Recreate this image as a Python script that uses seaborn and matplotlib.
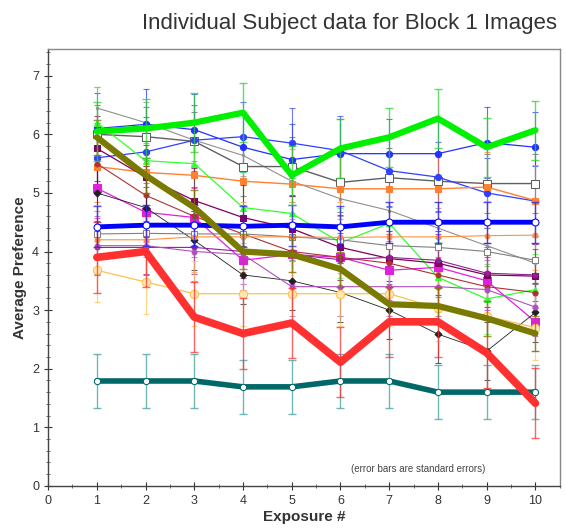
import matplotlib
matplotlib.use("Agg")
import matplotlib.pyplot as plt
import seaborn as sns
import numpy as np
import pandas as pd
from matplotlib.ticker import MultipleLocator

sns.set_theme(style="white")
plt.rcParams['font.family'] = ['Liberation Sans', 'DejaVu Sans']

exposure = [1, 2, 3, 4, 5, 6, 7, 8, 9, 10]
x_ticks = [0, 1, 2, 3, 4, 5, 6, 7, 8, 9, 10]
y_ticks = [0, 1, 2, 3, 4, 5, 6, 7]

# thin subject lines
gray_top = [6.45, 6.2, 5.9, 5.64, 5.2, 4.9, 4.7, 4.4, 4.1, 3.8]
gray_sq = [6.0, 5.96, 5.88, 5.45, 5.45, 5.18, 5.26, 5.2, 5.16, 5.16]
blue_b = [6.1, 6.17, 6.08, 5.78, 5.57, 5.67, 5.67, 5.67, 5.86, 5.78]
blue_c = [5.6, 5.7, 5.9, 5.96, 5.85, 5.72, 5.38, 5.27, 5.0, 4.86]
orange_d = [5.45, 5.35, 5.3, 5.2, 5.15, 5.07, 5.07, 5.07, 5.1, 4.87]
lgreen = [6.2, 5.55, 5.5, 4.75, 4.65, 4.15, 4.48, 3.56, 3.19, 3.35]
magenta = [5.08, 4.67, 4.58, 3.85, 3.95, 3.9, 3.68, 3.73, 3.5, 2.8]
dpurple = [5.76, 5.27, 4.87, 4.58, 4.39, 4.07, 3.88, 3.8, 3.6, 3.58]
brown = [5.5, 4.96, 4.6, 4.3, 4.0, 3.9, 3.8, 3.6, 3.4, 3.3]
black_d = [5.0, 4.75, 4.19, 3.6, 3.5, 3.3, 3.0, 2.59, 2.3, 2.96]
gray_sq2 = [4.3, 4.31, 4.3, 4.3, 4.25, 4.2, 4.1, 4.07, 4.0, 3.85]
orange2 = [4.2, 4.2, 4.25, 4.25, 4.25, 4.24, 4.25, 4.25, 4.27, 4.28]
purple1 = [4.07, 4.07, 4.07, 4.0, 3.95, 3.86, 3.9, 3.85, 3.63, 3.6]
violet2 = [4.1, 4.1, 4.0, 3.95, 3.4, 3.4, 3.4, 3.4, 3.35, 3.05]
gold = [3.68, 3.48, 3.28, 3.28, 3.28, 3.28, 3.28, 3.03, 2.9, 2.7]

# thick subject lines
teal_thick = [1.79, 1.79, 1.79, 1.69, 1.69, 1.79, 1.79, 1.6, 1.6, 1.6]
red_thick = [3.9, 4.0, 2.88, 2.6, 2.78, 2.11, 2.8, 2.8, 2.27, 1.41]
blue_thick = [4.42, 4.45, 4.45, 4.43, 4.45, 4.42, 4.5, 4.5, 4.5, 4.5]
olive_thick = [5.95, 5.3, 4.75, 4.0, 3.95, 3.7, 3.1, 3.07, 2.86, 2.6]
green_thick = [6.05, 6.1, 6.2, 6.37, 5.3, 5.76, 5.95, 6.27, 5.78, 6.07]

# standard errors (estimated per subject)
se = {
    "gray_top": 0.35, "gray_sq": 0.5, "blue_b": 0.6, "blue_c": 0.6, "orange_d": 0.6,
    "lgreen": 0.6, "magenta": 0.5, "dpurple": 0.55, "brown": 0.5, "black_d": 0.5,
    "gray_sq2": 0.4, "orange2": 0.6, "purple1": 0.45, "violet2": 0.5, "gold": 0.55,
    "teal_thick": 0.46, "red_thick": 0.6, "blue_thick": 0.35, "olive_thick": 0.3,
    "green_thick": 0.5,
}

# name, values, color, lw, marker, ms, facecolor
thin_series = [
    ("gray_top", gray_top, "#909090", 0.8, ".", 3, "#909090"),
    ("gray_sq", gray_sq, "#606060", 1.0, "s", 6, "white"),
    ("blue_b", blue_b, "#2030ff", 0.9, "o", 4.5, "#2030ff"),
    ("blue_c", blue_c, "#3040ff", 0.9, "o", 4.5, "#3040ff"),
    ("orange_d", orange_d, "#ff8030", 1.0, "s", 4.5, "#ff8030"),
    ("lgreen", lgreen, "#30ff30", 0.9, "^", 5, "#30ff30"),
    ("magenta", magenta, "#e020e0", 0.9, "s", 6, "#e020e0"),
    ("dpurple", dpurple, "#800060", 0.9, "s", 5, "#800060"),
    ("brown", brown, "#b03030", 0.8, "o", 3.5, "#b03030"),
    ("black_d", black_d, "#202020", 0.6, "D", 3.5, "#202020"),
    ("gray_sq2", gray_sq2, "#808080", 0.8, "s", 5, "white"),
    ("orange2", orange2, "#ff9040", 0.8, "o", 3.5, "#ff9040"),
    ("purple1", purple1, "#902090", 0.8, "o", 3.5, "#902090"),
    ("violet2", violet2, "#b050c0", 0.8, "o", 3.5, "#b050c0"),
    ("gold", gold, "#ffc050", 0.9, "o", 6, "#ffe8b0"),
]
thick_series = [
    ("teal_thick", teal_thick, "#006868", 4.0, "o", 4.5, "white", "#40a0a0"),
    ("red_thick", red_thick, "#ff3030", 5.5, "o", 3.5, "#ff3030", "#ff3030"),
    ("blue_thick", blue_thick, "#0000ff", 3.5, "o", 5, "white", "#2020ff"),
    ("olive_thick", olive_thick, "#7a7a00", 4.5, None, 0, "#7a7a00", "#7a7a00"),
    ("green_thick", green_thick, "#00f000", 4.5, None, 0, "#00f000", "#30d030"),
]

fig = plt.figure(figsize=(5.66, 5.31), dpi=100)
ax = fig.add_axes([0.085, 0.085, 0.904, 0.822])

for name, vals, col, lw, mk, ms, fc in thin_series:
    ax.errorbar(exposure, vals, yerr=se[name], fmt="none", ecolor=col, elinewidth=0.8,
                capsize=2.5, capthick=0.8, alpha=0.7, zorder=2)
    sns.lineplot(x=exposure, y=vals, ax=ax, color=col, linewidth=lw, marker=mk,
                 markersize=ms, markerfacecolor=fc, markeredgecolor=col, zorder=3)

for name, vals, col, lw, mk, ms, fc, ecol in thick_series:
    ax.errorbar(exposure, vals, yerr=se[name], fmt="none", ecolor=ecol, elinewidth=1.0,
                capsize=3, capthick=1.0, alpha=0.75, zorder=4)
    sns.lineplot(x=exposure, y=vals, ax=ax, color=col, linewidth=lw, marker=mk,
                 markersize=ms, markerfacecolor=fc, markeredgecolor=col, zorder=5)

ax.set_xlim(0, 10.5)
ax.set_ylim(0, 7.45)
ax.set_xticks(x_ticks)
ax.set_yticks(y_ticks)
ax.yaxis.set_minor_locator(MultipleLocator(0.2))
ax.xaxis.set_minor_locator(MultipleLocator(0.5))
ax.tick_params(axis="both", which="major", direction="inout", length=6, width=0.8,
               labelsize=9, colors="#333333", bottom=True, left=True)
ax.tick_params(axis="both", which="minor", direction="inout", length=3, width=0.6,
               colors="#555555", bottom=True, left=True)
for s in ["left", "bottom"]:
    ax.spines[s].set_color("#444444")
    ax.spines[s].set_linewidth(1.0)
for s in ["top", "right"]:
    ax.spines[s].set_color("#888888")
    ax.spines[s].set_linewidth(1.0)

ax.set_xlabel("Exposure #", fontsize=11, fontweight="bold", color="#333333", labelpad=2)
ax.set_ylabel("Average Preference", fontsize=11, fontweight="bold", color="#333333", labelpad=4)
ax.text(7.6, 0.28, "(error bars are standard errors)", fontsize=7, color="#444444",
        ha="center", va="center")
fig.text(0.617, 0.955, "Individual Subject data for Block 1 Images", fontsize=16,
         color="#333333", ha="center", va="center")

fig.savefig("out.png", dpi=100)
